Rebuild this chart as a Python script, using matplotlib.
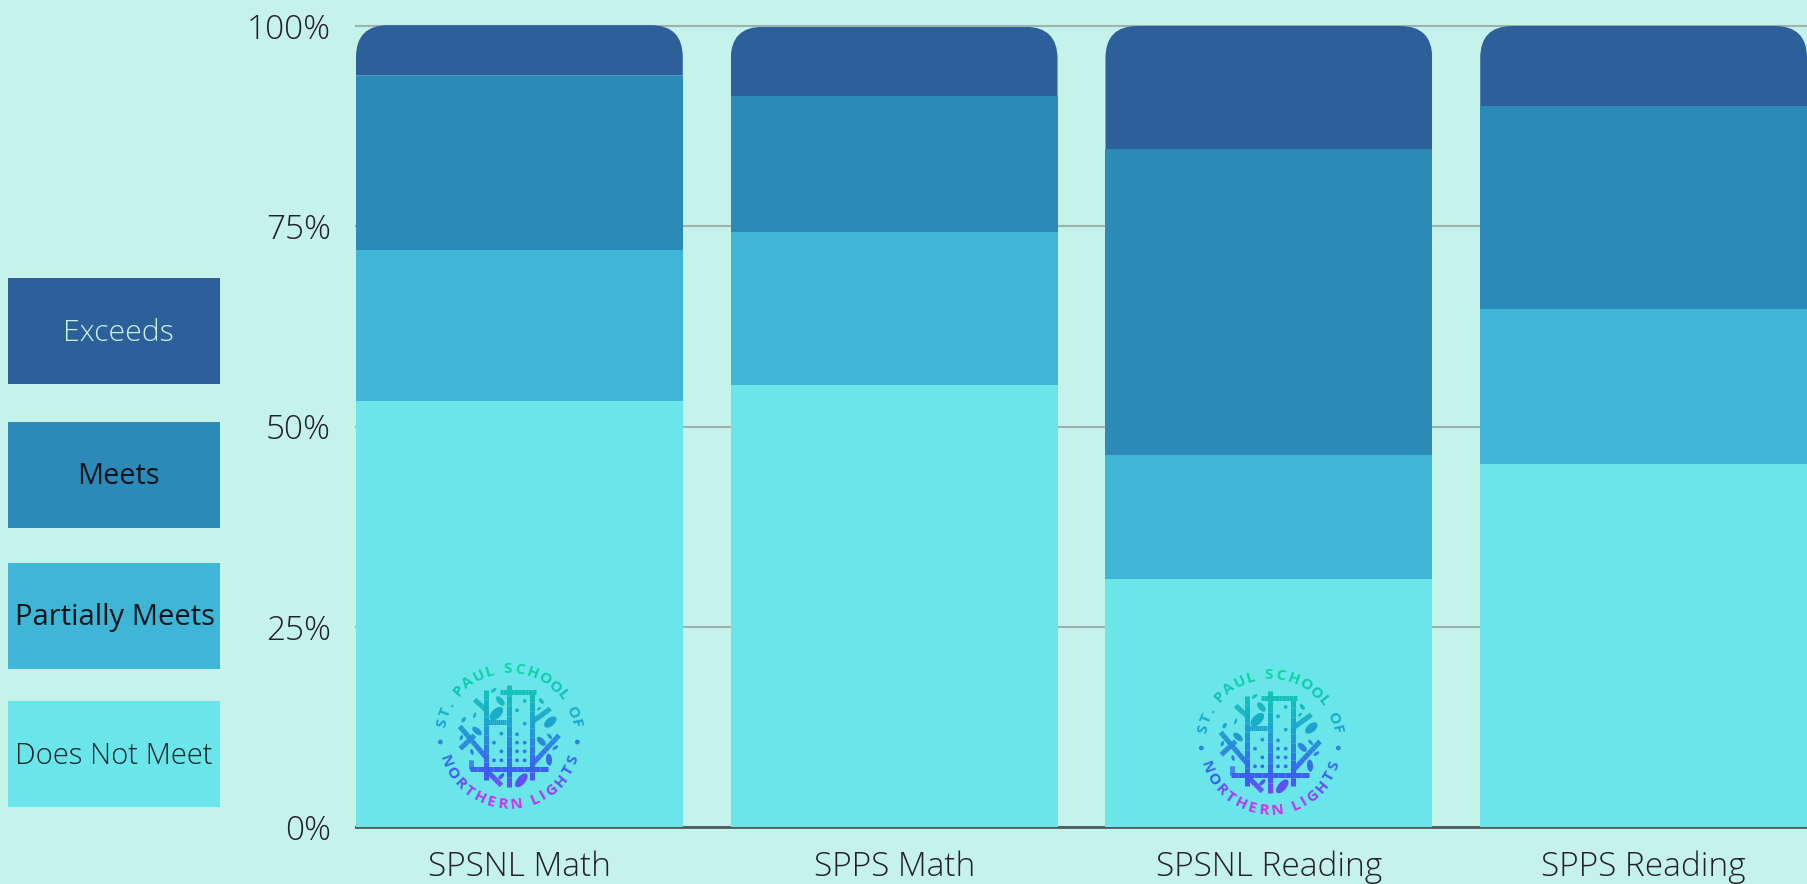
import matplotlib
matplotlib.use('Agg')
import numpy as np
import matplotlib.pyplot as plt
from matplotlib.patches import Rectangle, Circle, Ellipse
from matplotlib.path import Path
from matplotlib.colors import LinearSegmentedColormap

W, H = 1807, 884

categories = ['SPSNL Math', 'SPPS Math', 'SPSNL Reading', 'SPPS Reading']
does_not_meet = [53.2, 55.2, 31.0, 45.3]
partially_meets = [18.8, 19.1, 15.4, 19.4]
meets = [21.8, 16.9, 38.2, 25.3]
exceeds = [6.3, 8.7, 15.4, 10.0]
yticks = [0, 25, 50, 75, 100]

c_bg = '#c6f2ec'
c_dnm = '#6ae6ea'
c_pm = '#40b6d6'
c_m = '#2c8ab9'
c_e = '#2d5f9a'

plt.rcParams['font.family'] = ['Open Sans', 'DejaVu Sans']

fig = plt.figure(figsize=(W / 100, H / 100), dpi=100, facecolor=c_bg)
ax = fig.add_axes([356 / W, 1 - 827 / H, (W - 356) / W, (827 - 26) / H])
ax.set_facecolor(c_bg)

x = np.arange(len(categories))
width = 327 / 375.0
bottom = np.zeros(len(categories))
for vals, col in [(does_not_meet, c_dnm), (partially_meets, c_pm), (meets, c_m), (exceeds, c_e)]:
    bars = ax.bar(x, vals, width, bottom=bottom, color=col, zorder=3)
    bottom = bottom + np.array(vals)

ax.set_xlim(-width / 2, 3 + width / 2)
ax.set_ylim(0, 100)


# round the top corners of the last segment
def round_top(bar, rx, ry):
    x0, y0 = bar.get_x(), bar.get_y()
    x1, y1 = x0 + bar.get_width(), y0 + bar.get_height()
    verts = [(x0, y0), (x1, y0), (x1, y1 - ry), (x1, y1), (x1 - rx, y1),
             (x0 + rx, y1), (x0, y1), (x0, y1 - ry), (x0, y0)]
    codes = [Path.MOVETO, Path.LINETO, Path.LINETO, Path.CURVE3, Path.CURVE3,
             Path.LINETO, Path.CURVE3, Path.CURVE3, Path.CLOSEPOLY]
    bar.set_clip_box(None)
    bar.set_clip_path(Path(verts, codes), ax.transData)


for b in bars:
    round_top(b, 32 / 375.0, 32 * 100 / 801.0)

ax.set_xticks(x)
ax.set_xticklabels(categories)
ax.set_yticks(yticks)
ax.set_yticklabels(['%d%%' % v for v in yticks])
ax.tick_params(axis='both', length=0, labelsize=24, labelcolor='#222222')
ax.tick_params(axis='y', pad=18)
ax.tick_params(axis='x', pad=17)
for lab in ax.get_xticklabels() + ax.get_yticklabels():
    lab.set_fontweight('light')
ax.yaxis.grid(True, color='#9ab5ac', lw=1.5, zorder=1)
ax.set_axisbelow(True)
for gl in ax.get_ygridlines():
    gl.set_clip_on(False)
for s in ['top', 'left', 'right']:
    ax.spines[s].set_visible(False)
ax.spines['bottom'].set_color('#4d5c5c')
ax.spines['bottom'].set_linewidth(2)
ax.spines['bottom'].set_zorder(2)

# legend boxes
legend_labels = ['Exceeds', 'Meets', 'Partially Meets', 'Does Not Meet']
legend_colors = [c_e, c_m, c_pm, c_dnm]
legend_text = ['#c6f2ec', '#06141c', '#06141c', '#0b2228']
legend_tops = [278, 422, 563, 701]
legend_size = [21.8, 20.8, 21, 21]
legend_weight = ['light', 'normal', 'normal', 'light']
legend_mid = [118, 118, 115, 114]
over = fig.add_axes([0, 0, 1, 1], zorder=5)
over.set_xlim(0, W)
over.set_ylim(H, 0)
over.axis('off')
for lab, col, tc, top, fs, wt, mid in zip(legend_labels, legend_colors, legend_text, legend_tops,
                                         legend_size, legend_weight, legend_mid):
    over.add_patch(Rectangle((8, top), 212, 106, fc=col, ec='none'))
    over.text(mid, top + 55, lab, color=tc, fontsize=fs, ha='center', va='center', fontweight=wt)

# school logo, drawn twice. Shapes are in the 3x crop coordinates, ring centre at (328, 290)
logo_cmap = LinearSegmentedColormap.from_list(
    'logo', [(0, '#08dca0'), (0.40, '#1ba7cd'), (0.77, '#4058f5'), (1, '#e02cf0')])

strokes = [
    ((260, 150), (260, 420)), ((328, 135), (328, 440)), ((397, 160), (397, 420)),
    ((300, 155), (408, 155)), ((210, 385), (445, 385)), ((215, 360), (215, 385)),
    ((260, 245), (318, 245)), ((260, 210), (225, 178)), ((180, 258), (258, 350)),
    ((182, 325), (225, 285)), ((397, 245), (452, 205)), ((395, 375), (478, 285)),
    ((260, 390), (305, 435)),
]
leaves = [
    (290, 220, 50, 28, -45), (302, 182, 34, 18, 50), (282, 150, 20, 9, -40),
    (232, 272, 34, 18, 40), (192, 238, 18, 11, -60), (225, 225, 18, 7, -70),
    (185, 292, 16, 9, -70), (217, 335, 18, 9, 75), (452, 245, 44, 25, -40),
    (425, 303, 34, 18, 45), (450, 288, 20, 9, 50), (467, 322, 20, 9, -35),
    (448, 358, 36, 18, 85), (425, 182, 20, 11, 50), (418, 205, 14, 7, -40),
    (365, 420, 50, 25, -50), (305, 408, 24, 11, -45), (282, 410, 18, 7, 50),
]
windows = [
    (375, 182), (352, 210), (375, 250), (305, 280), (352, 282), (283, 307), (352, 307),
    (375, 307), (305, 333), (352, 333), (375, 333), (283, 360), (305, 360), (352, 360), (375, 360),
]
narrow = {' ': 0.55, '.': 0.45, 'I': 0.5, 'T': 0.85, 'L': 0.8, 'F': 0.8, 'E': 0.85, 'S': 0.85, 'P': 0.9}


def col_at(zy):
    return logo_cmap(min(max((zy - 65) / 435.0, 0), 1))


def ring_angles(txt, span):
    adv = [narrow.get(ch, 1.0) for ch in txt]
    edges = np.cumsum([0] + adv)
    mids = edges[:-1] + np.array(adv) / 2.0
    return (mids / edges[-1] - 0.5) * span


def draw_logo(cx, cy):
    def pt(zx, zy):
        return (cx + (zx - 328) / 3.0, cy + (zy - 290) / 3.0)

    R = 68.0
    # lettering around the ring
    top_text = 'ST. PAUL SCHOOL OF'
    bot_text = 'NORTHERN LIGHTS'
    for ch, ang in zip(top_text, ring_angles(top_text, 165)):
        r = np.radians(ang)
        zy = 290 - 3 * R * np.cos(r)
        over.text(cx + R * np.sin(r), cy - R * np.cos(r), ch, fontsize=11, fontweight='bold',
                  ha='center', va='center', rotation=-ang, rotation_mode='anchor', color=col_at(zy))
    for ch, ang in zip(bot_text, ring_angles(bot_text, 150)):
        r = np.radians(ang)
        zy = 290 + 3 * R * np.cos(r)
        over.text(cx + R * np.sin(r), cy + R * np.cos(r), ch, fontsize=11, fontweight='bold',
                  ha='center', va='center', rotation=ang, rotation_mode='anchor', color=col_at(zy))
    for zx in (122, 533):
        over.add_patch(Circle(pt(zx, 305), 2.4, fc=col_at(305), ec='none'))

    # trunks and branches, split so that the colour follows the height
    for p, q in strokes:
        n = 10
        for i in range(n):
            a0 = (p[0] + (q[0] - p[0]) * i / n, p[1] + (q[1] - p[1]) * i / n)
            a1 = (p[0] + (q[0] - p[0]) * (i + 1) / n, p[1] + (q[1] - p[1]) * (i + 1) / n)
            s0, s1 = pt(*a0), pt(*a1)
            over.plot([s0[0], s1[0]], [s0[1], s1[1]], color=col_at((a0[1] + a1[1]) / 2.0), lw=3.6,
                      solid_capstyle='butt')

    for zx, zy, w, h, ang in leaves:
        over.add_patch(Ellipse(pt(zx, zy), w / 3.0, h / 3.0, angle=ang, fc=col_at(zy), ec='none'))

    for zx, zy in windows:
        over.add_patch(Circle(pt(zx, zy), 1.9, fc=col_at(zy), ec='none'))


draw_logo(509, 737)
draw_logo(1270, 743)

fig.savefig('out.png', dpi=100, facecolor=c_bg)
